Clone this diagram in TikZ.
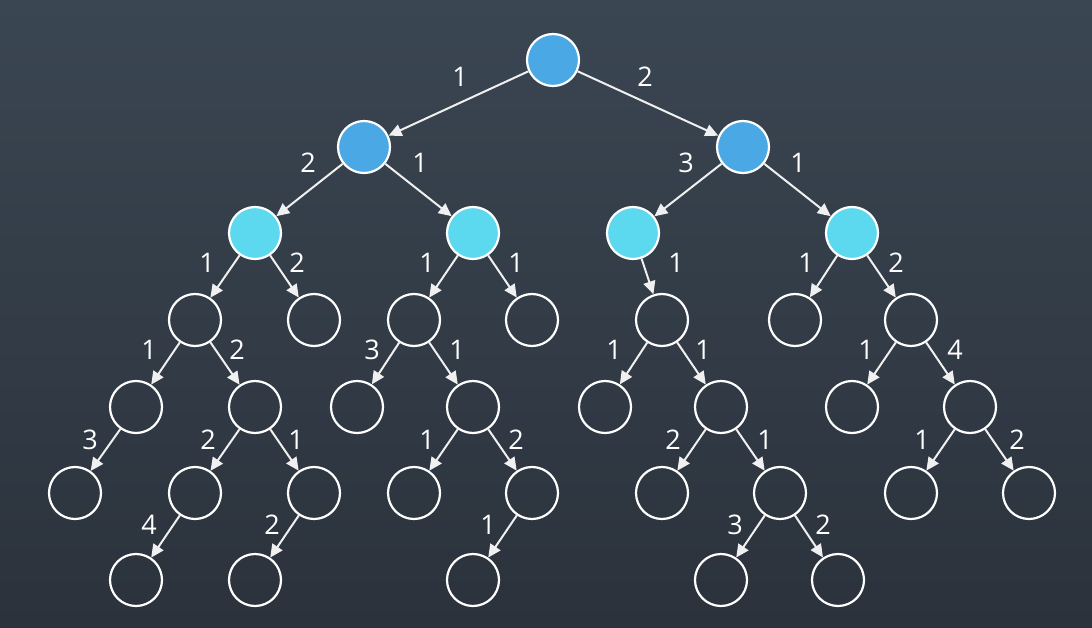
\documentclass[tikz,border=0pt]{standalone}
\usepackage{fontspec}
\setmainfont{Open Sans}
\usetikzlibrary{arrows.meta}
\definecolor{bgtop}{HTML}{3A4652}
\definecolor{bgbot}{HTML}{2B323C}
\definecolor{dblue}{HTML}{4AA8E4}
\definecolor{lcyan}{HTML}{5CD9EF}
\definecolor{lineg}{HTML}{F0F0F0}
\begin{document}
\begin{tikzpicture}[x=1pt,y=-1pt,
  nd/.style={circle,draw=white,line width=2.2pt,minimum size=52pt,inner sep=0pt},
  top/.style={nd,fill=dblue},
  mid/.style={nd,fill=lcyan},
  ed/.style={draw=lineg,line width=2pt,-{Triangle[length=13pt,width=12pt]}},
  lb/.style={text=white,font=\fontsize{27}{30}\selectfont}]
\shade[top color=bgtop,bottom color=bgbot] (0,0) rectangle (1092,628);
\useasboundingbox (0,0) rectangle (1092,628);
% nodes
\node[top] (r) at (553,60) {};
\node[top] (a) at (364,147) {};
\node[top] (b) at (743,147) {};
\node[mid] (a1) at (255,233) {};
\node[mid] (a2) at (473,233) {};
\node[mid] (b1) at (633,233) {};
\node[mid] (b2) at (852,233) {};
\node[nd] (c1) at (195,320) {};
\node[nd] (c2) at (314,320) {};
\node[nd] (c3) at (414,320) {};
\node[nd] (c4) at (532,320) {};
\node[nd] (c5) at (662,320) {};
\node[nd] (c6) at (795,320) {};
\node[nd] (c7) at (911,320) {};
\node[nd] (d1) at (136,407) {};
\node[nd] (d2) at (255,407) {};
\node[nd] (d3) at (357,407) {};
\node[nd] (d4) at (473,407) {};
\node[nd] (d5) at (605,407) {};
\node[nd] (d6) at (721,407) {};
\node[nd] (d7) at (852,407) {};
\node[nd] (d8) at (970,407) {};
\node[nd] (e1) at (75,493) {};
\node[nd] (e2) at (195,493) {};
\node[nd] (e3) at (314,493) {};
\node[nd] (e4) at (414,493) {};
\node[nd] (e5) at (532,493) {};
\node[nd] (e6) at (662,493) {};
\node[nd] (e7) at (780,493) {};
\node[nd] (e8) at (911,493) {};
\node[nd] (e9) at (1029,493) {};
\node[nd] (f1) at (136,580) {};
\node[nd] (f2) at (255,580) {};
\node[nd] (f3) at (473,580) {};
\node[nd] (f4) at (721,580) {};
\node[nd] (f5) at (838,580) {};
% edges
\foreach \s/\t in {r/a,r/b,a/a1,a/a2,b/b1,b/b2,a1/c1,a1/c2,a2/c3,a2/c4,b1/c5,b2/c6,b2/c7,
  c1/d1,c1/d2,c3/d3,c3/d4,c5/d5,c5/d6,c7/d7,c7/d8,
  d1/e1,d2/e2,d2/e3,d4/e4,d4/e5,d6/e6,d6/e7,d8/e8,d8/e9,
  e2/f1,e3/f2,e5/f3,e7/f4,e7/f5}
  \draw[ed] (\s) -- (\t);
% labels
\node[lb] (l1) at (460,77) {1};
\node[lb] (l2) at (645,77) {2};
\node[lb] (l3) at (308,163) {2};
\node[lb] (l4) at (420,163) {1};
\node[lb] (l5) at (686,163) {3};
\node[lb] (l6) at (798,163) {1};
\node[lb] (l7) at (207,263) {1};
\node[lb] (l8) at (297,263) {2};
\node[lb] (l9) at (427,263) {1};
\node[lb] (l10) at (516,263) {1};
\node[lb] (l11) at (676,263) {1};
\node[lb] (l12) at (806,263) {1};
\node[lb] (l13) at (896,263) {2};
\node[lb] (l14) at (149,350) {1};
\node[lb] (l15) at (237,350) {2};
\node[lb] (l16) at (372,350) {3};
\node[lb] (l17) at (457,350) {1};
\node[lb] (l18) at (614,350) {1};
\node[lb] (l19) at (703,350) {1};
\node[lb] (l20) at (866,350) {1};
\node[lb] (l21) at (955,350) {4};
\node[lb] (l22) at (90,440) {3};
\node[lb] (l23) at (208,440) {2};
\node[lb] (l24) at (296,440) {1};
\node[lb] (l25) at (427,440) {1};
\node[lb] (l26) at (516,440) {2};
\node[lb] (l27) at (673,440) {2};
\node[lb] (l28) at (765,440) {1};
\node[lb] (l29) at (922,440) {1};
\node[lb] (l30) at (1017,440) {2};
\node[lb] (l31) at (149,525) {4};
\node[lb] (l32) at (272,525) {2};
\node[lb] (l33) at (488,525) {1};
\node[lb] (l34) at (735,525) {3};
\node[lb] (l35) at (823,525) {2};
\end{tikzpicture}
\end{document}
